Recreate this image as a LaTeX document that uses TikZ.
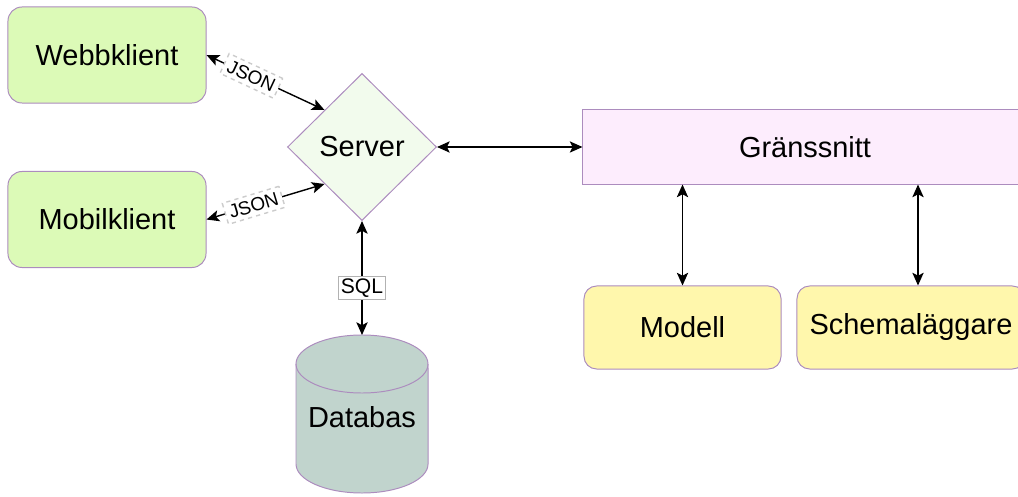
\documentclass[tikz,border=0pt]{standalone}
\usepackage{fontspec}
\setmainfont{Liberation Sans}
\usetikzlibrary{shapes.geometric,arrows.meta}
\definecolor{klientgreen}{RGB}{220,250,183}
\definecolor{servergreen}{RGB}{242,251,237}
\definecolor{granspink}{RGB}{253,237,253}
\definecolor{modulyellow}{RGB}{255,247,172}
\definecolor{dbgray}{RGB}{193,212,205}
\definecolor{kant}{RGB}{172,140,190}
\begin{document}
\begin{tikzpicture}[x = 0.025cm, y = -0.025cm,
        box/.style = {draw = kant, line width = 0.7pt, font = \fontsize{20.6}{24}\selectfont},
        klient/.style = {box, fill = klientgreen, rounded corners = 10pt, minimum width = 4.95cm, minimum height = 2.4cm},
        modul/.style = {box, fill = modulyellow, rounded corners = 9pt, minimum height = 2.075cm},
        pil/.style = {{Stealth[length = 9pt, width = 8pt, inset = 2pt]}-{Stealth[length = 9pt, width = 8pt, inset = 2pt]}, line width = 1pt},
        json/.style = {draw = gray!40, dashed, fill = white, font = \fontsize{13.5}{15}\selectfont, inner sep = 3pt, sloped},
        sql/.style = {draw = gray!60, fill = white, font = \fontsize{15}{17}\selectfont, inner sep = 1.5pt}]
    \useasboundingbox (0,0) rectangle (1018,497);
    \clip (0,0) rectangle (1018,497);
    \node[klient] (web) at (107,55) {Webbklient};
    \node[klient] (mobil) at (107,219.5) {Mobilklient};
    \node[box, diamond, fill = servergreen, inner sep = 0pt, minimum width = 3.725cm, minimum height = 3.675cm] (server) at (362,147) {Server};
    \node[box, fill = granspink, minimum width = 11.1cm, minimum height = 1.85cm] (grans) at (805,147) {Gränssnitt};
    \node[modul, minimum width = 4.925cm] (modell) at (682.5,327.5) {Modell};
    \node[modul, minimum width = 5.7cm] (schema) at (911,327.5) {Schemaläggare};
    \draw[box, fill = dbgray] (296,364) -- (296,464) arc[start angle = 180, end angle = 360, x radius = 1.65cm, y radius = 0.725cm]
        -- (428,364) arc[start angle = 0, end angle = 180, x radius = 1.65cm, y radius = 0.725cm] -- cycle;
    \draw[box] (296,364) arc[start angle = 180, end angle = 360, x radius = 1.65cm, y radius = 0.725cm];
    \node[font = \fontsize{20.6}{24}\selectfont] (db) at (362,417) {Databas};
    \coordinate (dbtop) at (362,335);
    \draw[pil] (web.east) -- node[json, pos = 0.38] {JSON} (server.north west);
    \draw[pil] (mobil.east) -- node[json, pos = 0.4] {JSON} (server.south west);
    \draw[pil] (server.east) -- (grans.west);
    \draw[pil] (server.south) -- node[sql, pos = 0.59] {SQL} (dbtop);
    \draw[pil] (grans.south -| modell.north) -- (modell.north);
    \draw[pil] ([xshift = 0.175cm]grans.south -| schema.north) -- ([xshift = 0.175cm]schema.north);
\end{tikzpicture}
\end{document}
